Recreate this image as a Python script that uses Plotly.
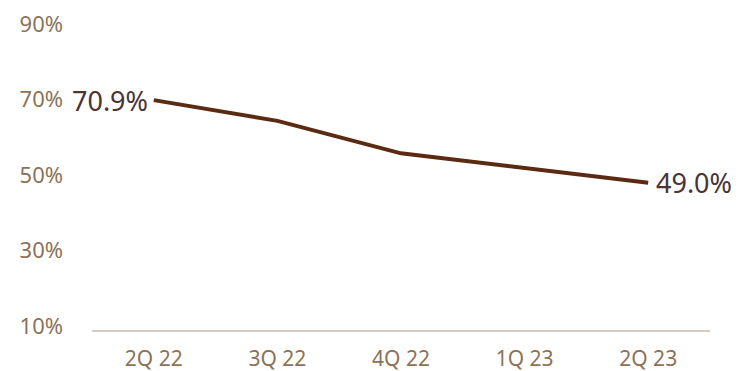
import plotly.graph_objects as go

categories = ["2Q 22", "3Q 22", "4Q 22", "1Q 23", "2Q 23"]
values = [70.9, 65.4, 56.8, 52.8, 49.0]
labels = ["70.9%", "", "", "", "49.0%"]
y_ticks = [10, 30, 50, 70, 90]
y_tick_text = ["10%", "30%", "50%", "70%", "90%"]

fig = go.Figure()
fig.add_trace(go.Scatter(
    x=categories, y=values, mode="lines",
    line=dict(color="#5a2a12", width=4),
    hoverinfo="skip", showlegend=False,
))

first, last = 0, len(categories) - 1
fig.add_annotation(x=categories[first], y=values[first], text=labels[first],
                   showarrow=False, xanchor="right", yanchor="middle", xshift=-4,
                   font=dict(family="Noto Sans", size=27, color="#4a3434"))
fig.add_annotation(x=categories[last], y=values[last], text=labels[last],
                   showarrow=False, xanchor="left", yanchor="middle", xshift=6,
                   font=dict(family="Noto Sans", size=27, color="#4a3434"))

fig.update_layout(
    width=738, height=371,
    margin=dict(l=92, r=28, t=28, b=41),
    paper_bgcolor="white", plot_bgcolor="white",
    xaxis=dict(
        type="category", range=[-0.5, 4.5], automargin=False,
        showgrid=False, showline=True, linecolor="#d3cbc4", linewidth=2,
        ticks="", tickfont=dict(family="Noto Sans", size=21, color="#8b7358"),
        zeroline=False, ticklabelstandoff=9,
    ),
    yaxis=dict(
        range=[10, 90], tickvals=y_ticks, ticktext=y_tick_text, automargin=False,
        showgrid=False, showline=False, zeroline=False, ticks="",
        tickfont=dict(family="Noto Sans", size=22, color="#8b7358"),
        ticklabelstandoff=28, ticklabelshift=-4,
    ),
)

fig.write_html("out.html")
